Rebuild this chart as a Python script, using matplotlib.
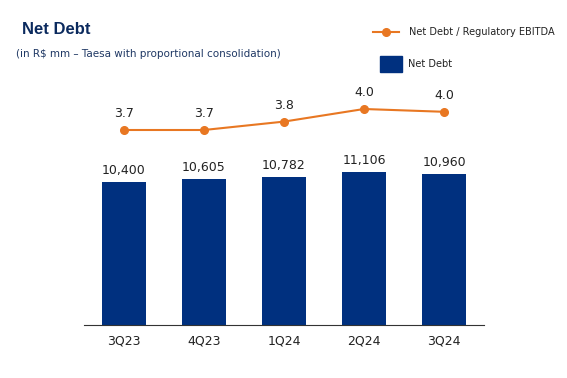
import numpy as np
import matplotlib.pyplot as plt
from matplotlib.lines import Line2D
from matplotlib.patches import Rectangle

quarters = ["3Q23", "4Q23", "1Q24", "2Q24", "3Q24"]
net_debt = [10400, 10605, 10782, 11106, 10960]
leverage = [3.70, 3.70, 3.82, 4.00, 3.96]
leverage_labels = ["3.7", "3.7", "3.8", "4.0", "4.0"]

navy = "#00307f"
orange = "#e87722"

fig = plt.figure(figsize=(5.67, 3.78), dpi=100)
ax = fig.add_axes([84 / 567, 53 / 378, 400 / 567, 230 / 378])
x = np.arange(len(quarters))

# barras: divida liquida
ax.bar(x, net_debt, width=0.55, color=navy)
for xi, v in zip(x, net_debt):
    ax.text(xi, v + 350, f"{v:,}", ha="center", va="bottom", fontsize=9, color="#222222")
ax.set_xlim(-0.5, 4.5)
ax.set_ylim(0, 16720)
ax.set_yticks([])
for s in ["top", "right", "left"]:
    ax.spines[s].set_visible(False)
ax.spines["bottom"].set_color("#333333")
ax.set_xticks(x)
ax.set_xticklabels(quarters, fontsize=9, color="#222222")
ax.tick_params(axis="x", length=0, pad=7)

# linha: alavancagem no eixo secundario
ax2 = ax.twinx()
ax2.plot(x, leverage, color=orange, linewidth=1.5, marker="o", markersize=5.5)
for xi, v, lab in zip(x, leverage, leverage_labels):
    ax2.text(xi, v + 0.14, lab, ha="center", va="bottom", fontsize=9, color="#222222")
ax2.set_ylim(0.914, 4.2)
ax2.axis("off")

fig.text(22 / 567, 1 - 30 / 378, "Net Debt", fontsize=12, fontweight="bold",
         family="Liberation Sans", color="#0b2a5e", va="center")
fig.text(16 / 567, 1 - 54 / 378, "(in R$ mm \u2013 Taesa with proportional consolidation)",
         fontsize=7.5, color="#1f3864", va="center")

# legenda manual
fig.add_artist(Line2D([373 / 567, 399 / 567], [1 - 32 / 378] * 2, color=orange, linewidth=1.5))
fig.add_artist(Line2D([386 / 567], [1 - 32 / 378], color=orange, marker="o", markersize=5.5))
fig.text(409 / 567, 1 - 32 / 378, "Net Debt / Regulatory EBITDA", fontsize=7, color="#222222",
         va="center")
fig.add_artist(Rectangle((380 / 567, 1 - 72 / 378), 22 / 567, 16 / 378,
                         transform=fig.transFigure, color=navy))
fig.text(408 / 567, 1 - 64 / 378, "Net Debt", fontsize=7, color="#222222", va="center")

plt.savefig("out.png", dpi=100)
